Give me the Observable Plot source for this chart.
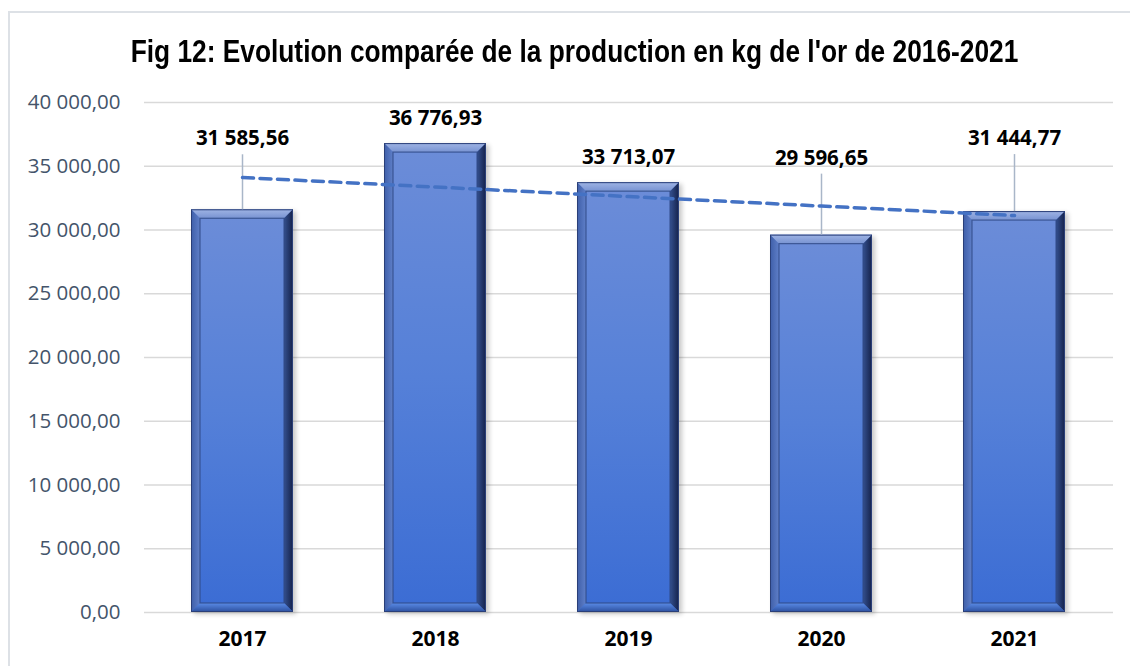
<!DOCTYPE html>
<html>
<head>
<meta charset="utf-8">
<script src="https://cdn.jsdelivr.net/npm/d3@7"></script>
<script src="https://cdn.jsdelivr.net/npm/@observablehq/plot@0.6"></script>
<style>
  html, body { margin: 0; padding: 0; background: #fff; }
  #wrap { position: relative; width: 1130px; height: 666px; overflow: hidden; }
  #frame { position: absolute; left: 8px; top: 11px; width: 1200px; height: 700px;
           border-top: 2px solid #dde1e6; border-left: 2px solid #dde1e6; box-sizing: border-box; }
  #title { position: absolute; left: 0; top: 31px; width: 1149px; text-align: center;
           font-family: "Liberation Sans", Arial, sans-serif;
           font-weight: bold; font-size: 31.5px; color: #000; line-height: 40px; white-space: nowrap;
           transform: scaleX(0.835); transform-origin: 574.5px 50%; }
  #chart { position: absolute; left: 0; top: 0; }
</style>
</head>
<body>
<div id="wrap">
  <div id="frame"></div>
  <div id="chart"></div>
  <div id="title">Fig 12: Evolution comparée de la production en kg de l'or de 2016-2021</div>
</div>
<script>
// ---- data ----
const years = ["2017", "2018", "2019", "2020", "2021"];
const production = [31585.56, 36776.93, 33713.07, 29596.65, 31444.77];
const yTicks = [0, 5000, 10000, 15000, 20000, 25000, 30000, 35000, 40000];

// ---- styling (pixel offsets of data labels above bar tops) ----
const labelLift = [71, 25, 25, 77, 73];

const W = 1130, H = 666;
const mTop = 102, mBottom = 54, mLeft = 144, mRight = 17;
const yMax = 40000;
const unit = yMax / (H - mTop - mBottom); // data units per pixel

const fmt = v => d3.format(",.2f")(v).replace(/,/g, " ").replace(".", ",");

const data = years.map((y, i) => ({year: y, value: production[i], lift: labelLift[i]}));

// linear trend (least squares) of the series
const xm = d3.mean(data, (d, i) => i), ym = d3.mean(data, d => d.value);
const slope = d3.sum(data, (d, i) => (i - xm) * (d.value - ym)) / d3.sum(data, (d, i) => (i - xm) ** 2);
const trend = data.map((d, i) => ({year: d.year, value: ym + slope * (i - xm)}));

const leaders = data.filter(d => d.lift > 40);

const plot = Plot.plot({
  width: W,
  height: H,
  marginTop: mTop,
  marginBottom: mBottom,
  marginLeft: mLeft,
  marginRight: mRight,
  style: {background: "transparent", overflow: "visible"},
  x: {domain: years, paddingInner: 0.47, paddingOuter: 0.235, label: null, tickSize: 0, tickPadding: 19},
  y: {domain: [0, yMax], ticks: yTicks, label: null, tickSize: 0, tickPadding: 24, tickFormat: fmt},
  marks: [
    Plot.ruleY(yTicks, {stroke: "#d9d9d9", strokeWidth: 1.6}),
    Plot.axisY({ticks: yTicks, tickFormat: fmt, tickSize: 0, tickPadding: 24, label: null,
                fill: "#44546a", fontSize: 20.5, fontFamily: "Open Sans, sans-serif"}),
    Plot.axisX({tickSize: 0, tickPadding: 19, label: null, fill: "#000",
                fontSize: 21, fontWeight: "bold", fontFamily: "Open Sans, sans-serif"}),
    Plot.barY(data, {x: "year", y: "value", fill: "#4a73cf"}),
    Plot.ruleX(leaders, {x: "year", y1: "value", y2: d => d.value + (d.lift - 16) * unit,
                         stroke: "#a9b6c8", strokeWidth: 1.5}),
    Plot.line(trend, {x: "year", y: "value", stroke: "#4472c4", strokeWidth: 3.5,
                      strokeDasharray: "11,6.5"}),
    Plot.text(data, {x: "year", y: d => d.value + d.lift * unit, text: d => fmt(d.value),
                     fontSize: 20.5, fontWeight: "bold", fill: "#000",
                     fontFamily: "Open Sans, sans-serif"})
  ]
});

document.getElementById("chart").appendChild(plot);

// ---- bevel styling of the bars ----
const svg = d3.select(plot);
const defs = svg.insert("defs", ":first-child");
function lin(id, x1, y1, x2, y2, stops) {
  const g = defs.append("linearGradient").attr("id", id)
    .attr("x1", x1).attr("y1", y1).attr("x2", x2).attr("y2", y2);
  stops.forEach(([o, c]) => g.append("stop").attr("offset", o).attr("stop-color", c));
}
lin("faceG", 0, 0, 0, 1, [[0, "#6b8cd8"], [0.5, "#5580d8"], [1, "#3c6dd4"]]);
lin("topG", 0, 0, 0, 1, [[0, "#9fb4e4"], [1, "#7893d2"]]);
lin("leftG", 0, 0, 1, 0, [[0, "#3e5ea8"], [1, "#5f7fc8"]]);
lin("rightG", 0, 0, 1, 0, [[0, "#34508f"], [1, "#14214a"]]);
lin("botG", 0, 0, 0, 1, [[0, "#5a8be6"], [1, "#2c4f9e"]]);
const filt = defs.append("filter").attr("id", "shadowF").attr("x", "-20%").attr("y", "-20%")
  .attr("width", "140%").attr("height", "140%");
filt.append("feGaussianBlur").attr("stdDeviation", 2.5);

const barRects = svg.selectAll('g[aria-label="bar"] rect').nodes();
barRects.forEach(node => {
  const r = d3.select(node);
  const x = +r.attr("x"), y = +r.attr("y"), w = +r.attr("width"), h = +r.attr("height");
  const g = d3.select(node.parentNode);
  const b = 9;
  const P = pts => pts.map(p => p.join(",")).join(" ");
  g.insert("rect", () => node).attr("x", x + 3).attr("y", y + 2).attr("width", w).attr("height", h)
    .attr("fill", "#000").attr("opacity", 0.22).attr("filter", "url(#shadowF)");
  r.attr("fill", "url(#faceG)");
  const add = (pts, fill) => g.append("polygon").attr("points", P(pts)).attr("fill", fill);
  add([[x + b, y + b], [x + w - b, y + b], [x + w - b, y + h - b], [x + b, y + h - b]], "url(#faceG)");
  add([[x, y], [x + w, y], [x + w - b, y + b], [x + b, y + b]], "url(#topG)");
  add([[x, y], [x + b, y + b], [x + b, y + h - b], [x, y + h]], "url(#leftG)");
  add([[x + w, y], [x + w, y + h], [x + w - b, y + h - b], [x + w - b, y + b]], "url(#rightG)");
  add([[x, y + h], [x + b, y + h - b], [x + w - b, y + h - b], [x + w, y + h]], "url(#botG)");
  g.append("rect").attr("x", x + b).attr("y", y + b).attr("width", w - 2 * b).attr("height", h - 2 * b)
    .attr("fill", "none").attr("stroke", "#2e4885").attr("stroke-width", 1.2).attr("stroke-opacity", 0.8);
  g.append("rect").attr("x", x + 0.5).attr("y", y + 0.5).attr("width", w - 1).attr("height", h - 1)
    .attr("fill", "none").attr("stroke", "#2a3f78").attr("stroke-width", 1);
});
// keep the leader rules (last rule group), trend line and labels above the bevels
const ruleGroups = svg.selectAll('g[aria-label="rule"]').nodes();
d3.select(ruleGroups[ruleGroups.length - 1]).raise();
svg.selectAll('g[aria-label="line"], g[aria-label="text"]').raise();
</script>
</body>
</html>
